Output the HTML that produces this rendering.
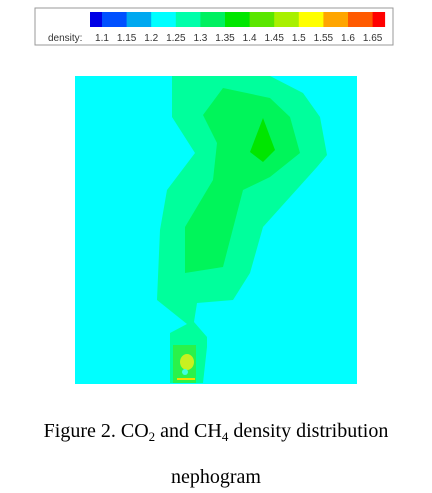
<!DOCTYPE html>
<html><head><meta charset="utf-8"><style>
html,body{margin:0;padding:0;background:#fff;width:432px;height:493px;overflow:hidden}
svg{display:block}
</style></head><body>
<svg width="432" height="493" viewBox="0 0 432 493">
  <g id="legend">
    <rect x="35" y="8" width="358" height="37" fill="#fff" stroke="#999" stroke-width="1"/>
    <text x="48" y="41" font-family="Liberation Sans, sans-serif" font-size="10" fill="#333">density:</text>
  </g>
  <g id="plot">
    <rect x="75" y="76" width="282" height="308" fill="#00ffff"/>
    <polygon fill="#00ff9c" points="172,76 270,76 303,93 320,117 327,155 317,167 263,227 250,273 233,300 197,303 194,322 207,337 207,347 203,383 170,383 170,333 187,324 157,300 160,230 167,190 195,153 172,117"/>
    <polygon fill="#00f55a" points="223,88 270,98 290,117 300,153 270,177 243,190 223,267 185,273 185,227 213,180 217,143 203,115"/>
    <polygon fill="#00e600" points="263,118 275,150 263,162 250,152"/>
    <rect x="173" y="345" width="23" height="38" fill="#2af24a"/>
    <ellipse cx="187" cy="362" rx="7" ry="8" fill="#c8f020"/>
    <circle cx="185" cy="372" r="3" fill="#40ffe0"/>
    <rect x="177" y="378" width="18" height="2" fill="#f0e000"/>
  </g>
  <text x="216" y="437" text-anchor="middle" font-family="Liberation Serif, serif" font-size="20" fill="#000">Figure 2. CO<tspan font-size="13" dy="4">2</tspan><tspan dy="-4"> and CH</tspan><tspan font-size="13" dy="4">4</tspan><tspan dy="-4"> density distribution</tspan></text>
  <text x="216" y="483" text-anchor="middle" font-family="Liberation Serif, serif" font-size="20" fill="#000">nephogram</text>
</svg>
<script>
const levels = ["1.1","1.15","1.2","1.25","1.3","1.35","1.4","1.45","1.5","1.55","1.6","1.65"];
const levelColors = ["#0000e6","#0050ff","#00a8f0","#00ffff","#00ffaa","#00f060","#00e600","#5ae600","#a8f000","#ffff00","#ffa500","#ff5a00","#ff0000"];
const NS="http://www.w3.org/2000/svg";
const lg=document.getElementById('legend');
const x0=90, firstW=12, cellW=24.6, y0=12, h=15;
function cellX(i){return i===0?x0:x0+firstW+(i-1)*cellW;}
function cellWidth(i){return i===0?firstW:(i===levelColors.length-1?12:cellW);}
levelColors.forEach((c,i)=>{
  const r=document.createElementNS(NS,'rect');
  r.setAttribute('x',cellX(i));r.setAttribute('y',y0);
  r.setAttribute('width',cellWidth(i)+0.5);r.setAttribute('height',h);
  r.setAttribute('fill',c);
  
  
  lg.appendChild(r);
});
levels.forEach((l,i)=>{
  const t=document.createElementNS(NS,'text');
  t.setAttribute('x',cellX(i+1));t.setAttribute('y',41);
  t.setAttribute('text-anchor','middle');
  t.setAttribute('font-family','Liberation Sans, sans-serif');
  t.setAttribute('font-size','10');t.setAttribute('fill','#333');
  t.textContent=l;
  
  
  lg.appendChild(t);
});
</script>
</body></html>
